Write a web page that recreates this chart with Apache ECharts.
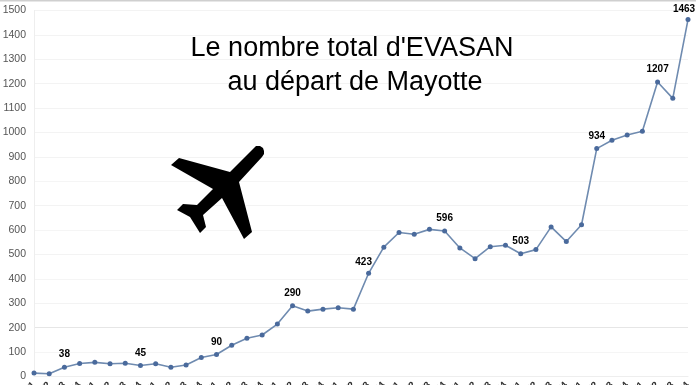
<!DOCTYPE html>
<html><head><meta charset="utf-8">
<style>html,body{margin:0;padding:0;background:#fff;overflow:hidden}#c{width:696px;height:385px;filter:blur(0.35px)}</style>
<script src="https://cdn.jsdelivr.net/npm/echarts@6/dist/echarts.min.js"></script>
</head><body><div id="c"></div>
<script>
const categories = ["2009 T1","2009 T2","2009 T3","2009 T4","2010 T1","2010 T2","2010 T3","2010 T4","2011 T1","2011 T2","2011 T3","2011 T4","2012 T1","2012 T2","2012 T3","2012 T4","2013 T1","2013 T2","2013 T3","2013 T4","2014 T1","2014 T2","2014 T3","2014 T4","2015 T1","2015 T2","2015 T3","2015 T4","2016 T1","2016 T2","2016 T3","2016 T4","2017 T1","2017 T2","2017 T3","2017 T4","2018 T1","2018 T2","2018 T3","2018 T4","2019 T1","2019 T2","2019 T3","2019 T4"];
const values = [14,11,38,53,58,52,54,45,52,38,47,78,90,128,157,170,215,290,268,276,282,276,423,530,590,583,603,596,527,483,532,538,503,520,613,553,622,934,968,990,1005,1207,1140,1463];
const labelled = {2:[0,0],7:[0,0],12:[0,0],17:[0,0],22:[-5,1],27:[0,0],32:[0,0],37:[0,0],41:[0,0],43:[-4,2]};
const titleLines = ["Le nombre total d'EVASAN","au départ de Mayotte"];
const gridColors = ['#eeeeee','#f5f5f5','#e6e6e6','#f3f3f3','#f5f5f5','#f3f3f3','#f5f5f5','#f3f3f3','#f5f5f5','#f3f3f3','#f3f3f3','#f3f3f3','#f3f3f3','#f3f3f3','#f3f3f3','#f3f3f3'];
const planePoints = [[256,146],[260,146],[263,148],[264,151],[264,154],[262,157],[239,182],[252,232],[244,239],[222,198],[203,215],[206,227],[200,233],[190,217],[177,210],[183,204],[197,205],[213,189],[171,165],[179,158],[230,172],[255,147]];

const chart = echarts.init(document.getElementById('c'), null, {renderer:'canvas'});
chart.setOption({
  animation:false,
  backgroundColor:'#fff',
  grid:{left:34,right:8,top:10.5,bottom:8.5,containLabel:false,outerBoundsMode:'none'},
  xAxis:{type:'category',data:categories,boundaryGap:false,
    axisLine:{show:true,lineStyle:{color:'#eeeeee'}},axisTick:{show:false},
    axisLabel:{interval:0,rotate:45,margin:7,fontSize:10,fontWeight:'bold',fontFamily:'Liberation Sans',color:'#333',hideOverlap:false},
    splitLine:{show:false}},
  yAxis:{type:'value',min:0,max:1500,interval:100,
    axisLine:{show:true,lineStyle:{color:'#eeeeee',width:1}},axisTick:{show:false},
    axisLabel:{margin:8,fontSize:10.5,fontFamily:'Liberation Sans',color:'#555',formatter:v=>String(v)},
    splitLine:{show:true,lineStyle:{color:gridColors,width:1}}},
  series:[{type:'line',data:values.map((v,i)=>{
      const o = labelled[i];
      return o ? {value:v,label:{show:true,position:'top',offset:o,distance:5,formatter:p=>String(p.value),
        fontSize:10,fontWeight:'bold',fontFamily:'Liberation Sans',color:'#000'}} : v;
    }),
    symbol:'circle',symbolSize:5,
    lineStyle:{color:'#6f8bb0',width:1.6},
    itemStyle:{color:'#4a6a9c'}}],
  graphic:[
    {type:'rect',silent:true,z:100,shape:{x:0,y:0,width:696,height:1.5},style:{fill:'#cfcfcf'}},
    {type:'polygon',silent:true,z:100,shape:{points:planePoints},style:{fill:'#000'}},
    {type:'text',silent:true,z:100,style:{x:352,y:49,text:titleLines[0],textAlign:'center',textVerticalAlign:'middle',font:'27px "Liberation Sans"',fill:'#000'}},
    {type:'text',silent:true,z:100,style:{x:355,y:83,text:titleLines[1],textAlign:'center',textVerticalAlign:'middle',font:'27px "Liberation Sans"',fill:'#000'}}
  ]
});
</script></body></html>
